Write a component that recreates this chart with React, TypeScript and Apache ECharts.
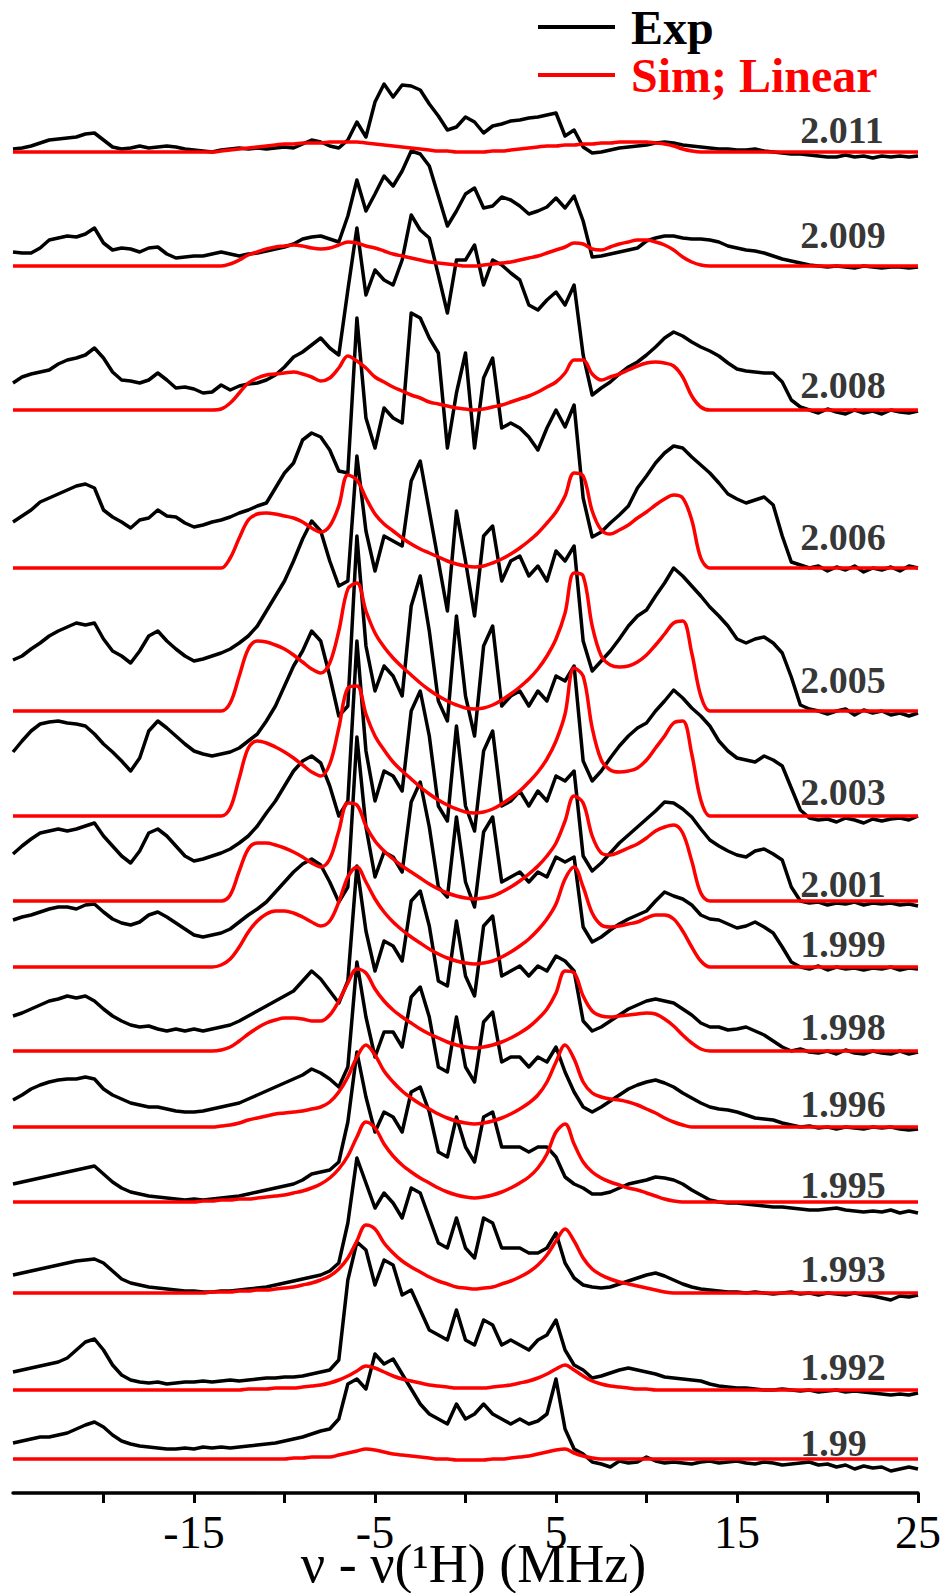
import React, { useEffect, useRef } from "react";
import * as echarts from "echarts";

// g-values of the stacked ENDOR traces (top to bottom)
const gLabels = ["2.011", "2.009", "2.008", "2.006", "2.005", "2.003", "2.001", "1.999", "1.998", "1.996", "1.995", "1.993", "1.992", "1.99"];
// vertical offset of each trace's baseline (y-axis units)
const baselines = [1341, 1227, 1083, 925, 782, 677, 592, 526, 442, 366, 291, 200, 103, 34];
// label height above each baseline (y-axis units)
const labelLift = [22, 31, 25, 31, 31, 24, 17, 23, 24, 23, 17, 24, 23, 16];
const labelX = 18.5;

// frequency grid (MHz) for experimental traces: -25..25 step 0.5
const expX: number[] = Array.from({ length: 101 }, (_, i) => -25 + i * 0.5);
// frequency grid (MHz) for simulated traces: -15..15 step 0.5
const simX: number[] = Array.from({ length: 61 }, (_, i) => -15 + i * 0.5);

// Experimental intensities (above baseline)
const exp2011 = [3,4,6,9,12,13,14,15,18,19,12,5,3,4,6,4,5,6,5,3,2,1, 0,2,3,4,3,4,3,4,5,4,8,12,10,6,4, 12,30,15,50,68,55,67,66,62,48,36,22,25,35,30,19,26,28,31,32,34,35,37,39,16,22,5, -1,0,2,4,5,6,7,9,10,9,7,6,5,4,3,3,2,2,3,1,0,-1,-2,-2,-3,-4,-5,-5,-3,-5,-4,-6,-4,-5,-4,-5,-4];
const exp2009 = [14,13,13,18,26,28,30,29,32,38,23,16,18,17,14,18,19,12,8,9,10,10, 12,14,12,10,12,13,15,17,19,22,27,29,30,27,24, 50,86,55,72,90,80,95,115,112,100,70,40,55,72,78,58,60,69,66,60,52,55,59,68,58,70,45, 9,10,12,14,16,18,25,28,30,30,28,27,27,26,24,20,18,16,15,13,10,7,5,3,1,0,-1,0,-1,-2,0,-1,-2,-1,-1,-2,-1];
const exp2008 = [27,33,36,38,40,46,50,52,55,62,52,38,30,29,27,30,37,30,22,23,21,17, 18,25,20,24,26,27,30,35,43,53,58,65,72,62,55, 120,182,115,140,130,125,150,195,180,172,135,97,150,150,165,125,150,145,137,130,105,100,110,118,105,125,55, 15,22,28,36,43,48,55,63,72,78,74,68,63,59,54,47,41,39,38,37,37,28,10,3,0,-3,1,-2,-4,0,-3,-1,-4,0,-2,-3,-1];
const exp2006 = [46,52,58,66,70,74,78,82,84,80,58,51,46,40,48,50,58,52,51,45,41,43, 46,48,51,55,58,62,65,80,95,105,128,135,131,118,97, 95,250,150,120,160,150,145,255,250,230,215,120,175,215,120,190,210,140,145,140,131,118,140,158,141,163,70, 31,36,45,53,62,80,92,105,115,122,120,111,103,95,85,74,69,65,68,71,63,32,6,3,0,2,-3,1,-2,2,-4,0,-2,1,-3,2,0];
const exp2005 = [51,55,62,68,75,80,84,88,86,88,72,60,55,48,60,75,80,70,62,55,50,52, 55,58,62,68,75,85,100,115,130,150,172,190,180,150,125, 130,255,180,140,175,170,165,230,250,200,150,100,200,150,95,175,185,130,150,155,135,145,130,160,150,165,70, 40,50,60,72,85,95,101,115,128,143,135,125,115,104,95,85,72,68,72,74,68,58,34,6,2,0,-3,0,2,-4,1,-2,0,-4,-2,-5,-2];
const exp2003 = [64,75,85,92,94,95,93,92,90,82,72,64,55,45,58,85,95,88,80,72,65,62, 60,62,64,68,75,82,95,110,130,150,165,185,175,140,100, 110,280,170,125,150,140,120,210,240,185,115,95,200,120,80,170,190,110,120,125,110,125,115,140,135,150,55, 35,45,58,70,80,88,93,105,115,126,118,108,100,90,75,65,58,56,54,60,56,50,28,6,-2,-4,-3,-6,-2,-4,-7,-3,-5,-3,-2,-4,0];
const exp2001 = [47,55,62,68,70,72,70,72,75,78,65,55,45,38,50,68,72,65,55,45,40,42, 45,48,52,58,65,75,88,100,115,130,140,145,138,115,85, 100,260,150,100,130,125,110,190,210,165,95,80,175,95,70,150,170,95,100,110,95,110,100,125,120,130,45, 30,38,48,58,66,74,82,90,99,98,92,84,72,61,55,50,46,44,50,52,47,41,14,0,-2,-1,-4,-2,-3,-1,-4,-2,-3,-2,-4,-3,-5];
const exp1999 = [47,50,52,55,58,60,60,58,62,63,55,48,44,42,45,52,55,50,44,38,32,30, 32,34,38,45,52,58,65,75,85,95,103,108,102,85,65, 80,230,140,90,115,110,95,165,185,140,80,70,150,85,60,135,150,85,90,95,85,95,90,110,105,110,40, 25,30,37,43,48,52,56,66,75,71,68,62,52,48,47,43,39,41,45,40,34,20,5,0,-2,1,-3,0,-2,-1,-3,-1,-2,0,-3,-1,-2];
const exp1998 = [35,38,42,46,50,52,55,53,55,50,42,35,30,26,24,25,22,20,22,20,22,20, 22,24,26,30,35,40,45,50,55,60,70,80,72,60,48, 70,185,120,80,110,105,90,150,160,125,70,65,130,75,55,125,135,75,80,85,75,85,80,95,90,80,30, 20,24,30,36,42,46,50,52,50,48,42,36,28,24,24,21,22,24,20,16,10,4,0,2,-1,-2,0,-3,1,-2,-3,0,-2,-3,0,-3,-1];
const exp1996 = [27,32,38,42,45,47,48,48,50,48,38,32,28,24,22,20,20,18,16,15,15,16, 18,20,22,24,28,32,36,40,44,48,52,58,54,48,40, 60,165,110,70,95,95,80,130,140,110,60,55,110,60,45,105,115,65,70,70,60,70,65,80,55,35,20, 15,20,26,32,38,42,45,47,44,40,34,29,24,20,18,17,15,12,9,8,7,4,2,0,1,-1,0,-2,0,-1,-2,0,-1,0,-2,-3,-2];
const exp1995 = [18,20,22,24,26,28,30,32,34,36,28,20,14,10,8,6,5,4,3,2,3,2, 3,4,5,6,8,10,12,14,16,18,22,28,30,32,40, 80,150,105,70,90,85,70,110,115,90,50,45,85,55,40,85,90,55,55,55,50,55,55,45,25,18,14, 8,8,10,14,18,20,22,25,24,22,18,12,7,2,0,-1,-1,-2,-3,-4,-5,-5,-6,-7,-8,-8,-7,-6,-8,-9,-10,-9,-10,-8,-11,-9,-11];
const exp1993 = [18,20,22,24,26,28,30,32,33,34,30,22,14,10,8,6,5,4,3,2,2,1, 1,2,2,3,4,5,6,8,10,12,14,16,18,22,30, 70,135,110,85,100,90,75,105,100,75,50,45,75,45,35,75,70,45,45,45,40,40,45,60,30,15,8, 6,5,6,9,12,15,18,20,17,13,9,6,4,3,2,1,1,0,1,0,-1,0,1,-1,0,-2,0,-1,-2,0,-2,-3,-5,-7,-3,-4,-2];
const exp1992 = [18,20,22,24,26,28,32,40,48,51,40,25,15,10,8,7,8,6,7,8,8,9, 8,9,10,9,10,11,12,12,13,13,14,16,18,20,30, 110,148,140,105,130,125,95,100,80,60,55,50,80,50,45,70,65,45,50,45,40,50,55,70,40,25,20, 12,14,17,20,22,20,18,16,13,12,11,10,9,6,4,3,2,2,1,0,0,1,0,-1,0,-2,-1,0,-2,-1,-2,-3,-4,-5,-4,-5,-3];
const exp1990 = [16,18,20,22,22,24,26,30,34,37,32,24,18,15,13,12,11,10,10,11,10,12, 11,12,11,12,13,14,15,16,18,20,22,25,28,30,40, 75,80,70,105,95,100,85,70,55,45,40,35,55,40,45,55,45,40,35,40,35,38,45,80,30,10,5, -3,-5,-8,-2,-4,-3,2,-2,-4,-3,-4,-5,-3,-2,-4,-3,-2,-4,-5,-3,-4,-6,-5,-4,-3,-6,-5,-8,-6,-10,-7,-9,-8,-12,-10,-8,-10];

// Simulated (linear) intensities, -15..15 MHz
const sim2011 = [0,0,0,1,2,3,4,5,6,7, 8,8,9,9,9,10,10,10,10,9, 8,7,6,5,4,3,2,1,1,0, 0,0,0,1,1,2,3,4,5,6, 6,7,7,8,8,9,9,10,10,10, 10,9,8,6,3,1,0,0,0,0, 0];
const sim2009 = [0,0,0,0,2,6,11,14,17,19, 20,21,20,18,17,18,21,24,23,20, 18,15,12,10,8,6,4,3,2,1, 0,0,1,2,3,4,6,8,10,13, 16,19,23,22,17,16,19,22,24,26, 26,24,21,16,9,4,1,0,0,0, 0];
const sim2008 = [0,0,0,1,7,17,27,32,35,36, 37,38,36,33,29,32,42,54,49,42, 33,28,23,19,15,12,8,6,4,2, 1,0,1,3,5,8,11,14,18,23, 28,37,50,50,36,30,33,36,40,44, 47,48,47,44,33,14,3,0,0,0, 0];
const sim2006 = [0,0,0,0,10,30,48,54,55,54, 52,50,46,40,36,42,62,93,88,70, 54,44,37,30,24,19,15,11,7,4, 2,1,2,5,9,14,20,27,35,45, 56,72,95,92,57,38,34,38,43,50, 56,63,69,73,70,48,10,0,0,0, 0];
const sim2005 = [0,0,0,0,8,35,62,70,69,66, 62,56,49,42,38,48,80,122,128,100, 78,64,53,44,36,28,21,15,10,6, 3,2,3,6,11,17,24,32,42,55, 72,98,138,135,85,55,46,44,45,49, 56,66,77,88,90,58,15,0,0,0, 0];
const sim2003 = [0,0,0,0,8,38,68,75,73,69, 64,58,51,44,40,52,88,128,130,102, 80,66,54,45,37,29,22,16,11,7, 4,3,4,7,12,18,25,34,44,57, 75,102,148,140,88,56,46,44,45,48, 56,68,80,93,95,62,16,0,0,0, 0];
const sim2001 = [0,0,0,0,6,30,52,58,58,56, 53,49,44,38,34,42,70,98,96,75, 60,50,42,35,29,23,17,12,8,5, 3,2,3,5,9,14,20,27,35,45, 58,80,105,98,65,48,46,49,53,57, 63,70,74,76,68,40,8,0,0,0, 0];
const sim1999 = [0,0,0,2,8,20,35,46,53,56, 56,54,50,45,41,46,65,90,100,85, 68,55,45,37,30,24,18,13,9,6, 4,3,4,6,10,15,21,28,37,48, 63,88,100,80,54,42,40,41,43,45, 49,52,52,48,36,20,6,0,0,0, 0];
const sim1998 = [0,0,0,1,4,10,17,23,28,31, 33,33,32,30,30,36,50,68,82,78, 62,50,41,34,28,22,17,13,9,6, 4,3,4,6,9,13,18,24,32,42, 58,80,78,55,40,35,34,35,36,37, 38,37,32,25,16,8,2,0,0,0, 0];
const sim1996 = [0,0,0,1,2,4,7,9,11,13, 14,15,16,18,20,25,35,50,70,82, 72,56,45,36,29,23,18,13,9,6, 4,3,4,6,9,13,18,24,32,45, 65,82,68,45,34,30,28,27,25,22, 18,14,9,5,2,0,0,0,0,0, 0];
const sim1995 = [0,1,1,2,2,3,3,4,5,6, 7,9,11,14,18,24,33,46,65,80, 74,58,46,37,30,24,19,14,10,7, 5,4,5,7,10,14,19,25,34,48, 70,78,58,40,30,24,20,17,14,12, 9,6,3,1,0,0,0,0,0,0, 0];
const sim1993 = [0,0,1,1,1,2,2,3,3,4, 5,6,8,10,13,17,24,35,52,68, 64,50,40,32,26,21,16,12,9,6, 5,4,5,6,9,12,16,21,28,38, 52,64,52,35,24,18,14,11,9,7, 5,3,1,0,0,0,0,0,0,0, 0];
const sim1992 = [0,0,0,0,0,0,1,1,1,2, 2,2,3,4,5,7,10,14,19,24, 22,18,14,11,9,7,5,4,3,2, 2,2,2,3,4,5,7,9,12,16, 21,25,20,14,9,6,4,3,2,1, 1,0,0,0,0,0,0,0,0,0, 0];
const sim1990 = [0,0,0,0,0,0,0,0,0,0, 0,1,1,2,2,2,4,6,8,10, 9,7,5,4,3,2,1,0,0,-1, -1,-1,-1,0,0,1,2,3,5,7, 9,10,6,3,1,0,0,0,0,0, 0,0,0,0,0,0,0,0,0,0, 0];

const expSeries = [exp2011, exp2009, exp2008, exp2006, exp2005, exp2003, exp2001, exp1999, exp1998, exp1996, exp1995, exp1993, exp1992, exp1990];
const simSeries = [sim2011, sim2009, sim2008, sim2006, sim2005, sim2003, sim2001, sim1999, sim1998, sim1996, sim1995, sim1993, sim1992, sim1990];

const SERIF = "'Liberation Serif', 'Times New Roman', serif";

export default function App() {
  const ref = useRef<HTMLDivElement>(null);

  useEffect(() => {
    if (!ref.current) return;
    const chart = echarts.init(ref.current, null, { renderer: "svg" });

    const series: any[] = [];
    expSeries.forEach((vals, i) => {
      series.push({
        name: "Exp",
        type: "line",
        symbol: "none",
        clip: false,
        z: 2,
        color: "#000000",
        lineStyle: { color: "#000000", width: 3.5, join: "round" },
        data: expX.map((x, j) => [x, baselines[i] + vals[j]]),
      });
    });
    simSeries.forEach((vals, i) => {
      const pts: number[][] = [[-25, baselines[i]]];
      simX.forEach((x, j) => pts.push([x, baselines[i] + vals[j]]));
      pts.push([25, baselines[i]]);
      series.push({
        name: "Sim; Linear",
        type: "line",
        symbol: "none",
        smooth: 0.35,
        clip: false,
        z: 3,
        color: "#ff0000",
        lineStyle: { color: "#ff0000", width: 3.5 },
        data: pts,
      });
    });
    series.push({
      name: "g",
      type: "scatter",
      symbolSize: 0,
      z: 4,
      silent: true,
      label: {
        show: true,
        position: "right",
        distance: 0,
        formatter: (p: any) => gLabels[p.dataIndex],
        fontFamily: SERIF,
        fontWeight: "bold",
        fontSize: 38,
        color: "#000000",
      },
      data: gLabels.map((_, i) => [labelX, baselines[i] + labelLift[i]]),
    });

    chart.setOption({
      animation: false,
      backgroundColor: "#ffffff",
      grid: {
        left: 13,
        right: 22,
        top: 0,
        bottom: 100,
        containLabel: false,
        outerBoundsMode: "none",
      },
      legend: {
        orient: "vertical",
        left: 533,
        top: -2,
        icon: "rect",
        itemWidth: 77,
        itemHeight: 4,
        itemGap: 0,
        selectedMode: false,
        textStyle: {
          fontFamily: SERIF,
          fontWeight: "bold",
          fontSize: 48,
          lineHeight: 47,
          padding: [0, 0, 0, 11],
        },
        data: [
          { name: "Exp", textStyle: { color: "#000000" } },
          { name: "Sim; Linear", textStyle: { color: "#ff0000" } },
        ],
      },
      xAxis: {
        type: "value",
        min: -25,
        max: 25,
        interval: 5,
        axisLine: { lineStyle: { color: "#000000", width: 3.5 } },
        axisTick: {
          length: 10,
          lineStyle: { color: "#000000", width: 3 },
          customValues: [-20, -15, -10, -5, 0, 5, 10, 15, 20, 25],
        },
        axisLabel: {
          customValues: [-15, -5, 5, 15, 25],
          fontFamily: SERIF,
          fontSize: 46,
          lineHeight: 30,
          color: "#000000",
          margin: 24,
        },
        splitLine: { show: false },
        name: "ν - ν(¹H) (MHz)",
        nameLocation: "middle",
        nameGap: 56,
        nameMoveOverlap: false,
        nameTextStyle: {
          fontFamily: SERIF,
          fontSize: 54,
          lineHeight: 30,
          color: "#000000",
          padding: [0, 0, 0, 16],
        },
      },
      yAxis: { type: "value", min: 0, max: 1493, show: false },
      series,
    });

    return () => chart.dispose();
  }, []);

  return (
    <div
      ref={ref}
      style={{ position: "absolute", left: 0, top: 0, width: 940, height: 1593, background: "#fff" }}
    />
  );
}
